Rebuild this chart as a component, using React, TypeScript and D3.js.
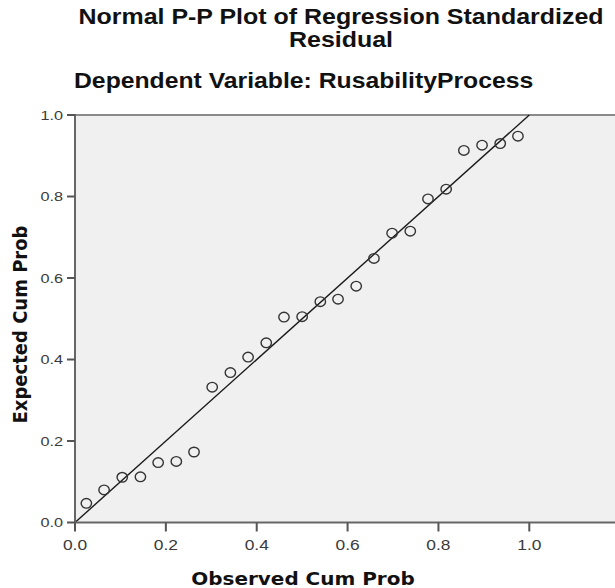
import React, { useEffect, useRef } from "react";
import * as d3 from "d3";

// observed cum prob (Blom positions) and expected cum prob
const observed = [0.025, 0.064, 0.104, 0.144, 0.183, 0.223, 0.262, 0.302, 0.342, 0.381, 0.421, 0.46, 0.5, 0.54, 0.579, 0.619, 0.658, 0.698, 0.738, 0.777, 0.817, 0.856, 0.896, 0.936, 0.975];
const expected = [0.047, 0.08, 0.111, 0.112, 0.147, 0.15, 0.173, 0.332, 0.368, 0.406, 0.441, 0.504, 0.505, 0.542, 0.548, 0.58, 0.648, 0.71, 0.715, 0.794, 0.818, 0.913, 0.926, 0.93, 0.948];
const tickValues = [0, 0.2, 0.4, 0.6, 0.8, 1.0];
const titleLines = ["Normal P-P Plot of Regression Standardized", "Residual"];
const subTitle = "Dependent Variable: RusabilityProcess";
const xTitle = "Observed Cum Prob";
const yTitle = "Expected Cum Prob";

const W = 615;
const H = 588;
const SX = 1.11; // the picture is stretched sideways a little

export default function App() {
  const ref = useRef<SVGSVGElement>(null);

  useEffect(() => {
    var svg = d3.select(ref.current);
    svg.selectAll("*").remove();

    var left = 75,
      top = 115,
      bottom = 522.5;

    var x = d3.scaleLinear().domain([0, 1]).range([left, 529.3]);
    var y = d3.scaleLinear().domain([0, 1]).range([bottom, top]);

    svg.append("rect").attr("width", W).attr("height", H).attr("fill", "#ffffff");

    // plot area
    svg
      .append("rect")
      .attr("x", left)
      .attr("y", top)
      .attr("width", W - left)
      .attr("height", bottom - top)
      .attr("fill", "#f0f0f0");

    svg
      .append("line")
      .attr("x1", left)
      .attr("x2", W)
      .attr("y1", top)
      .attr("y2", top)
      .attr("stroke", "#8a8a8a")
      .attr("stroke-width", 2);

    // diagonal reference line
    svg
      .append("line")
      .attr("x1", x(0))
      .attr("y1", y(0))
      .attr("x2", x(1))
      .attr("y2", y(1))
      .attr("stroke", "#1a1a1a")
      .attr("stroke-width", 1.4);

    // points
    var pts = observed.map((o, i) => ({ o: o, e: expected[i] }));
    svg
      .selectAll(".pt")
      .data(pts)
      .join("ellipse")
      .attr("class", "pt")
      .attr("cx", (d) => x(d.o))
      .attr("cy", (d) => y(d.e))
      .attr("rx", 5.2)
      .attr("ry", 4.8)
      .attr("fill", "none")
      .attr("stroke", "#333")
      .attr("stroke-width", 1.4);

    // axes lines
    svg
      .append("line")
      .attr("x1", left)
      .attr("x2", W)
      .attr("y1", bottom)
      .attr("y2", bottom)
      .attr("stroke", "#666")
      .attr("stroke-width", 2);
    svg
      .append("line")
      .attr("x1", left)
      .attr("x2", left)
      .attr("y1", top - 1)
      .attr("y2", bottom + 1)
      .attr("stroke", "#666")
      .attr("stroke-width", 2);

    var fmt = d3.format(".1f");

    // y ticks
    svg
      .selectAll(".ytick")
      .data(tickValues)
      .join("line")
      .attr("class", "ytick")
      .attr("x1", left - 8)
      .attr("x2", left)
      .attr("y1", (d) => y(d))
      .attr("y2", (d) => y(d))
      .attr("stroke", "#555")
      .attr("stroke-width", 2);
    svg
      .selectAll(".ylab")
      .data(tickValues)
      .join("text")
      .attr("class", "ylab")
      .attr("transform", (d) => `translate(${left - 12},${y(d) + 4.5}) scale(1.25,1)`)
      .attr("text-anchor", "end")
      .attr("font-family", "'Liberation Sans', Arial, sans-serif")
      .attr("font-size", 13)
      .attr("fill", "#3a3a3a")
      .text((d) => fmt(d));

    // x ticks
    svg
      .selectAll(".xtick")
      .data(tickValues)
      .join("line")
      .attr("class", "xtick")
      .attr("x1", (d) => x(d))
      .attr("x2", (d) => x(d))
      .attr("y1", bottom)
      .attr("y2", bottom + 9)
      .attr("stroke", "#555")
      .attr("stroke-width", 2);
    svg
      .selectAll(".xlab")
      .data(tickValues)
      .join("text")
      .attr("class", "xlab")
      .attr("transform", (d) => `translate(${x(d)},${550}) scale(1.2,1)`)
      .attr("text-anchor", "middle")
      .attr("font-family", "'Liberation Sans', Arial, sans-serif")
      .attr("font-size", 14.5)
      .attr("fill", "#3a3a3a")
      .text((d) => fmt(d));

    // axis titles
    svg
      .append("text")
      .attr("transform", `translate(303,585) scale(${SX},1)`)
      .attr("text-anchor", "middle")
      .attr("font-family", "'DejaVu Sans', Verdana, sans-serif")
      .attr("font-weight", "bold")
      .attr("font-size", 18)
      .attr("fill", "#111")
      .text(xTitle);
    svg
      .append("text")
      .attr("transform", `translate(27,324.5) rotate(-90) scale(1,${SX})`)
      .attr("text-anchor", "middle")
      .attr("font-family", "'DejaVu Sans', Verdana, sans-serif")
      .attr("font-weight", "bold")
      .attr("font-size", 18)
      .attr("fill", "#111")
      .text(yTitle);

    // titles
    svg
      .selectAll(".title")
      .data(titleLines)
      .join("text")
      .attr("class", "title")
      .attr("transform", (d, i) => `translate(341,${24 + i * 23}) scale(${SX},1)`)
      .attr("text-anchor", "middle")
      .attr("font-family", "'Liberation Sans', Arial, sans-serif")
      .attr("font-weight", "bold")
      .attr("font-size", 22.5)
      .attr("fill", "#111")
      .text((d) => d);
    svg
      .append("text")
      .attr("transform", `translate(74,88) scale(${SX},1)`)
      .attr("font-family", "'Liberation Sans', Arial, sans-serif")
      .attr("font-weight", "bold")
      .attr("font-size", 22.3)
      .attr("fill", "#111")
      .text(subTitle);
  }, []);

  return (
    <svg
      ref={ref}
      width={W}
      height={H}
      style={{ position: "absolute", left: 0, top: 0, display: "block" }}
    ></svg>
  );
}
